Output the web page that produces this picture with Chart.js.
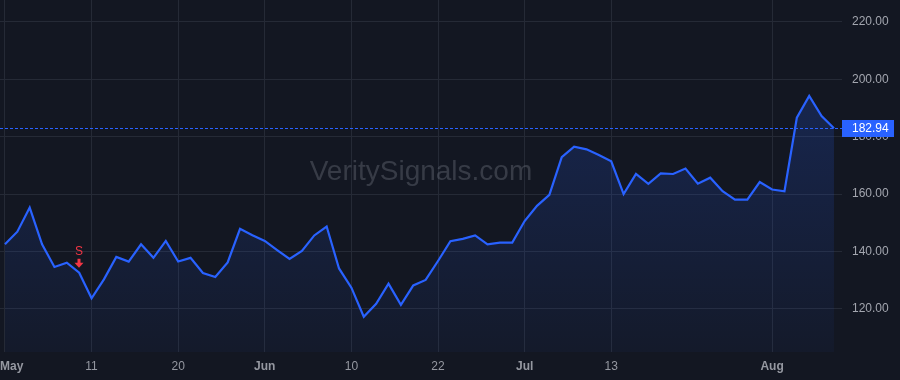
<!DOCTYPE html>
<html>
<head>
<meta charset="utf-8">
<script src="https://cdn.jsdelivr.net/npm/chart.js@4"></script>
<style>
  html, body { margin: 0; padding: 0; background: #131722; }
  canvas { display: block; }
</style>
</head>
<body>
<canvas id="priceChart" width="900" height="380"></canvas>
<script>
// daily closes, May -> early Aug
const prices = [
  142.5, 146.9, 155.3, 142.5, 134.6, 136.1, 132.6, 123.7, 130.3, 138.1,
  136.5, 142.5, 137.8, 143.7, 136.5, 137.8, 132.5, 131.1, 136.2, 147.9,
  145.7, 143.7, 140.5, 137.4, 140.2, 145.6, 148.7, 134.1, 127.4, 117.3,
  121.8, 128.8, 121.4, 128.2, 130.1, 136.7, 143.6, 144.4, 145.6, 142.5,
  143.1, 143.1, 150.6, 155.9, 159.7, 172.9, 176.5, 175.6, 173.6, 171.4,
  160.0, 167.0, 163.6, 167.2, 167.0, 168.9, 163.6, 165.7, 161.0, 158.1,
  158.1, 164.2, 161.6, 161.0, 186.6, 194.2, 187.2, 182.94
];
const tickIdx = [0, 7, 14, 21, 28, 35, 42, 49, 62];
const tickLabels = ['May', '11', '20', 'Jun', '10', '22', 'Jul', '13', 'Aug'];
const monthLabels = ['May', 'Jun', 'Jul', 'Aug'];
const yTicks = [120, 140, 160, 180, 200, 220];
const signalIdx = [6];
const signalText = ['S'];

const FONT = '"Liberation Sans", Arial, sans-serif';
const BLUE = '#2962ff';
const GRID = '#252a36';

const bgPlugin = {
  id: 'bg',
  beforeDraw(chart) {
    const c = chart.ctx;
    c.save();
    c.fillStyle = '#131722';
    c.fillRect(0, 0, chart.width, chart.height);
    c.restore();
  },
  beforeDatasetsDraw(chart) {
    const c = chart.ctx;
    c.save();
    c.font = '28px ' + FONT;
    c.fillStyle = 'rgba(120,124,136,0.36)';
    c.textAlign = 'center';
    c.textBaseline = 'middle';
    c.fillText('VeritySignals.com', 421, 172);
    c.restore();
  },
  afterDraw(chart) {
    const c = chart.ctx;
    const xs = chart.scales.x, ys = chart.scales.y;
    const area = chart.chartArea;

    // x labels
    c.save();
    c.fillStyle = '#9598a1';
    c.textBaseline = 'middle';
    c.textAlign = 'center';
    tickIdx.forEach((idx, i) => {
      const lbl = tickLabels[i];
      c.font = (monthLabels.includes(lbl) ? 'bold ' : '') + '12px ' + FONT;
      const w = c.measureText(lbl).width;
      let px = xs.getPixelForValue(idx);
      if (px - w / 2 < 0) px = w / 2;
      c.fillText(lbl, px, 367);
    });
    c.restore();

    // signal markers
    c.save();
    signalIdx.forEach((idx, i) => {
      const px = Math.round(xs.getPixelForValue(idx));
      const py = ys.getPixelForValue(prices[idx]);
      c.fillStyle = '#f23645';
      c.font = '12px ' + FONT;
      c.textAlign = 'center';
      c.textBaseline = 'middle';
      c.fillText(signalText[i], px, py - 21);
      const top = py - 14;
      c.fillRect(px - 1.5, top, 3, 5);
      c.beginPath();
      c.moveTo(px - 4.5, top + 4);
      c.lineTo(px + 4.5, top + 4);
      c.lineTo(px, top + 9);
      c.closePath();
      c.fill();
    });
    c.restore();

    // last price line + tag
    const last = prices[prices.length - 1];
    const ly = Math.round(ys.getPixelForValue(last)) + 0.5;
    c.save();
    c.strokeStyle = BLUE;
    c.lineWidth = 1;
    c.setLineDash([3, 2]);
    c.beginPath();
    c.moveTo(area.left, ly);
    c.lineTo(area.right, ly);
    c.stroke();
    c.setLineDash([]);
    c.fillStyle = BLUE;
    c.fillRect(area.right, ly - 8.5, 52, 17);
    c.fillStyle = '#ffffff';
    c.font = '12px ' + FONT;
    c.textAlign = 'left';
    c.textBaseline = 'middle';
    c.fillText(last.toFixed(2), area.right + 10, ly + 0.5);
    c.restore();
  }
};

const ctx = document.getElementById('priceChart').getContext('2d');
const priceChart = new Chart(ctx, {
  type: 'line',
  data: {
    datasets: [{
      data: prices.map((v, i) => ({ x: i, y: v })),
      borderColor: BLUE,
      borderWidth: 2.2,
      pointRadius: 0,
      tension: 0,
      fill: 'start',
      backgroundColor: (context) => {
        const area = context.chart.chartArea;
        if (!area) return 'rgba(41,98,255,0.1)';
        const g = context.chart.ctx.createLinearGradient(0, area.top + 90, 0, area.bottom);
        g.addColorStop(0, 'rgba(41,98,255,0.2)');
        g.addColorStop(1, 'rgba(41,98,255,0.04)');
        return g;
      }
    }]
  },
  options: {
    responsive: false,
    animation: false,
    layout: { padding: 0 },
    plugins: {
      legend: { display: false },
      tooltip: { enabled: false }
    },
    scales: {
      x: {
        type: 'linear',
        min: -0.4,
        max: 67.65,
        afterBuildTicks: (scale) => { scale.ticks = tickIdx.map(v => ({ value: v })); },
        afterFit: (scale) => {
          scale.height = 28;
          scale.paddingLeft = 0; scale.paddingRight = 0;
        },
        ticks: { display: false },
        grid: { color: GRID, lineWidth: 1, drawTicks: false },
        border: { display: false }
      },
      y: {
        position: 'right',
        min: 105.0,
        max: 227.6,
        afterBuildTicks: (scale) => { scale.ticks = yTicks.map(v => ({ value: v })); },
        afterFit: (scale) => {
          scale.width = 58;
          scale.paddingTop = 0; scale.paddingBottom = 0;
        },
        ticks: {
          padding: 10,
          color: '#a3a6af',
          font: { family: FONT, size: 12 },
          callback: (v) => Number(v).toFixed(2)
        },
        grid: { color: GRID, lineWidth: 1, drawTicks: false },
        border: { display: false }
      }
    }
  },
  plugins: [bgPlugin]
});
</script>
</body>
</html>
